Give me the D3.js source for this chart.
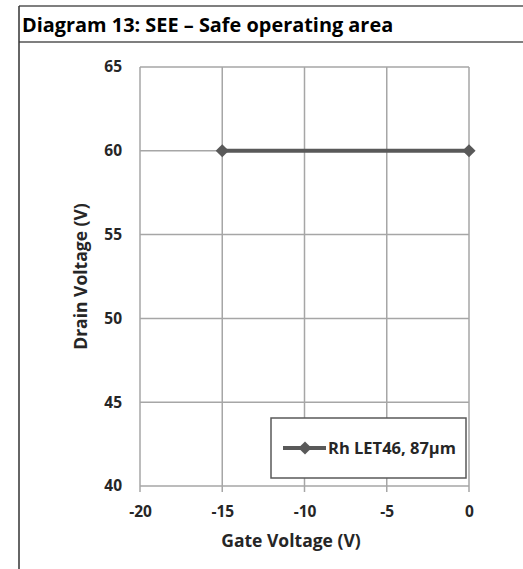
<!DOCTYPE html>
<html>
<head>
<meta charset="utf-8">
<script src="https://cdn.jsdelivr.net/npm/d3@7"></script>
<style>
  body { margin: 0; background: #fff; }
  text { font-family: "Open Sans", Lato, sans-serif; font-weight: bold; fill: #262626; }
</style>
</head>
<body>
<div class="chart"></div>
<script>
var WIDTH = 523, HEIGHT = 569;

// data
var seriesName = "Rh LET46, 87\u00b5m";
var gateVoltage = [-15, 0];
var drainVoltage = [60, 60];
var xTicks = [-20, -15, -10, -5, 0];
var yTicks = [40, 45, 50, 55, 60, 65];

var margin = { top: 67, left: 140 },
    width = 469 - 140,
    height = 486 - 67;

var svg = d3.select(".chart").append("svg")
    .attr("width", WIDTH)
    .attr("height", HEIGHT);

// page frame + title
svg.append("line").attr("x1", 19).attr("x2", WIDTH).attr("y1", 6).attr("y2", 6)
    .attr("stroke", "#555").attr("stroke-width", 1.5);
svg.append("line").attr("x1", 19).attr("x2", WIDTH).attr("y1", 42).attr("y2", 42)
    .attr("stroke", "#555").attr("stroke-width", 1.5);
svg.append("line").attr("x1", 19).attr("x2", 19).attr("y1", 6).attr("y2", HEIGHT)
    .attr("stroke", "#333").attr("stroke-width", 1.5);
svg.append("text")
    .attr("x", 22).attr("y", 32)
    .style("font-size", "19.9px")
    .style("fill", "#000")
    .text("Diagram 13: SEE \u2013 Safe operating area");

var xScale = d3.scaleLinear().domain([-20, 0]).range([0, width]);
var yScale = d3.scaleLinear().domain([40, 65]).range([height, 0]);

var g = svg.append("g")
    .attr("transform", "translate(" + margin.left + "," + margin.top + ")");

// grid
g.selectAll(".vgrid").data(xTicks).enter().append("line")
    .attr("x1", d => xScale(d)).attr("x2", d => xScale(d))
    .attr("y1", 0).attr("y2", height + 6)
    .attr("stroke", "#a6a6a6").attr("stroke-width", 1.5);
g.selectAll(".hgrid").data(yTicks).enter().append("line")
    .attr("x1", 0).attr("x2", width)
    .attr("y1", d => yScale(d)).attr("y2", d => yScale(d))
    .attr("stroke", "#a6a6a6").attr("stroke-width", 1.5);

// axes (labels only, lines drawn as grid)
var xAxis = d3.axisBottom(xScale).tickValues(xTicks).tickFormat(d => String(d))
    .tickSize(0).tickPadding(20);
g.append("g").attr("transform", "translate(0," + height + ")").call(xAxis)
    .call(a => a.select(".domain").remove())
    .selectAll("text").style("font-size", "15.5px").style("font-family", null);

var yAxis = d3.axisLeft(yScale).tickValues(yTicks).tickFormat(d => String(d))
    .tickSize(0).tickPadding(18);
g.append("g").call(yAxis)
    .call(a => a.select(".domain").remove())
    .selectAll("text").style("font-size", "15.5px").style("font-family", null);

svg.append("text")
    .attr("x", 291).attr("y", 547)
    .attr("text-anchor", "middle")
    .style("font-size", "17.5px")
    .text("Gate Voltage (V)");
svg.append("text")
    .attr("transform", "translate(87," + (margin.top + height / 2) + ") rotate(-90)")
    .attr("text-anchor", "middle")
    .style("font-size", "17.5px")
    .text("Drain Voltage (V)");

// series
var pts = gateVoltage.map((v, i) => [v, drainVoltage[i]]);
var line = d3.line().x(d => xScale(d[0])).y(d => yScale(d[1]));
g.append("path").datum(pts)
    .attr("d", line)
    .attr("fill", "none").attr("stroke", "#595959").attr("stroke-width", 4);
var diamond = d3.symbol().type(d3.symbolDiamond2).size(110);
g.selectAll(".pt").data(pts).enter().append("path")
    .attr("d", diamond)
    .attr("transform", d => "translate(" + xScale(d[0]) + "," + yScale(d[1]) + ")")
    .attr("fill", "#595959");

// legend
var legend = svg.append("g").attr("transform", "translate(271,418)");
legend.append("rect").attr("width", 195).attr("height", 60)
    .attr("fill", "#fff").attr("stroke", "#595959").attr("stroke-width", 1.5);
legend.append("line").attr("x1", 12).attr("x2", 55).attr("y1", 30).attr("y2", 30)
    .attr("stroke", "#595959").attr("stroke-width", 4);
legend.append("path").attr("d", diamond).attr("transform", "translate(34,30)")
    .attr("fill", "#595959");
legend.append("text").attr("x", 57).attr("y", 36)
    .style("font-size", "16.5px")
    .text(seriesName);
</script>
</body>
</html>
